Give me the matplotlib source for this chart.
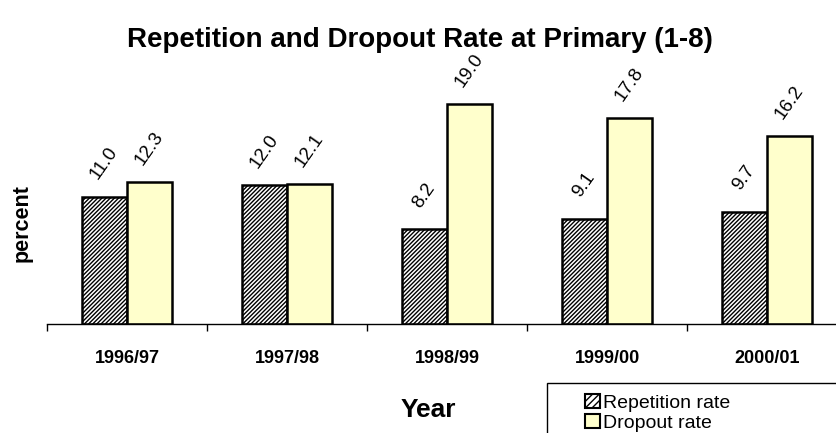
import numpy as np
import matplotlib.pyplot as plt
from matplotlib.patches import Patch, Rectangle

plt.rcParams['font.family'] = ['Liberation Sans', 'DejaVu Sans']
plt.rcParams['hatch.linewidth'] = 1.0

# data
years = ['1996/97', '1997/98', '1998/99', '1999/00', '2000/01']
repetition = [11.0, 12.0, 8.2, 9.1, 9.7]
dropout = [12.3, 12.1, 19.0, 17.8, 16.2]

W, H = 836, 433
fig = plt.figure(figsize=(W / 100, H / 100), dpi=100)
ax = fig.add_axes([47 / W, 109 / H, (W - 47) / W, 264 / H])

x = np.arange(len(years))
bw = 0.284
ax.bar(x - bw / 2, repetition, bw, facecolor='white', edgecolor='black',
       hatch='////////', linewidth=1.8)
ax.bar(x + bw / 2, dropout, bw, facecolor='#FFFFCC', edgecolor='black',
       linewidth=1.8)

# rotated value labels
off = 2.9
for xi, v in zip(x - bw / 2, repetition):
    ax.text(xi, v + off, f'{v:.1f}', rotation=55, ha='center', va='center',
            fontsize=13.5)
for xi, v in zip(x + bw / 2, dropout):
    ax.text(xi, v + off, f'{v:.1f}', rotation=55, ha='center', va='center',
            fontsize=13.5)

ax.set_xlim(-0.5, -0.5 + (W - 47) / 160)
ax.set_ylim(0, 264 / 11.58)
for s in ['top', 'right', 'left']:
    ax.spines[s].set_visible(False)
ax.spines['bottom'].set_linewidth(1.0)
ax.set_yticks([])

# boundary ticks, labels at centres
ax.set_xticks(np.arange(-0.5, len(years) - 1, 1.0))
ax.set_xticklabels([])
ax.tick_params(axis='x', which='major', length=5, width=1, direction='out')
ax.set_xticks(x, minor=True)
ax.set_xticklabels(years, minor=True, fontsize=13, fontweight='bold')
ax.tick_params(axis='x', which='minor', length=0, pad=19)

fig.text(428 / W, 1 - 410 / H, 'Year', ha='center', va='center',
         fontsize=19, fontweight='bold')
fig.text(22 / W, 1 - 223 / H, 'percent', ha='center', va='center',
         rotation=90, fontsize=15.5, fontweight='bold')
fig.text(420 / W, 1 - 40 / H, 'Repetition and Dropout Rate at Primary (1-8)',
         ha='center', va='center', fontsize=20, fontweight='bold')

# legend box runs off the canvas edge
fig.patches.append(Rectangle((547 / W, -0.1), 0.5, 0.1 + (H - 383) / H,
                             transform=fig.transFigure, facecolor='white',
                             edgecolor='black', linewidth=1.0))
handles = [Patch(facecolor='white', edgecolor='black', hatch='/////',
                 linewidth=1.5, label='Repetition rate'),
           Patch(facecolor='#FFFFCC', edgecolor='black', linewidth=1.5,
                 label='Dropout rate')]
fig.legend(handles=handles, loc='upper left',
           bbox_to_anchor=(585 / W, 1 - 394 / H), frameon=False,
           fontsize=14, handlelength=0.75, handleheight=0.75,
           handletextpad=0.2, labelspacing=0.1, borderpad=0, borderaxespad=0)

fig.savefig('out.png', dpi=100)
